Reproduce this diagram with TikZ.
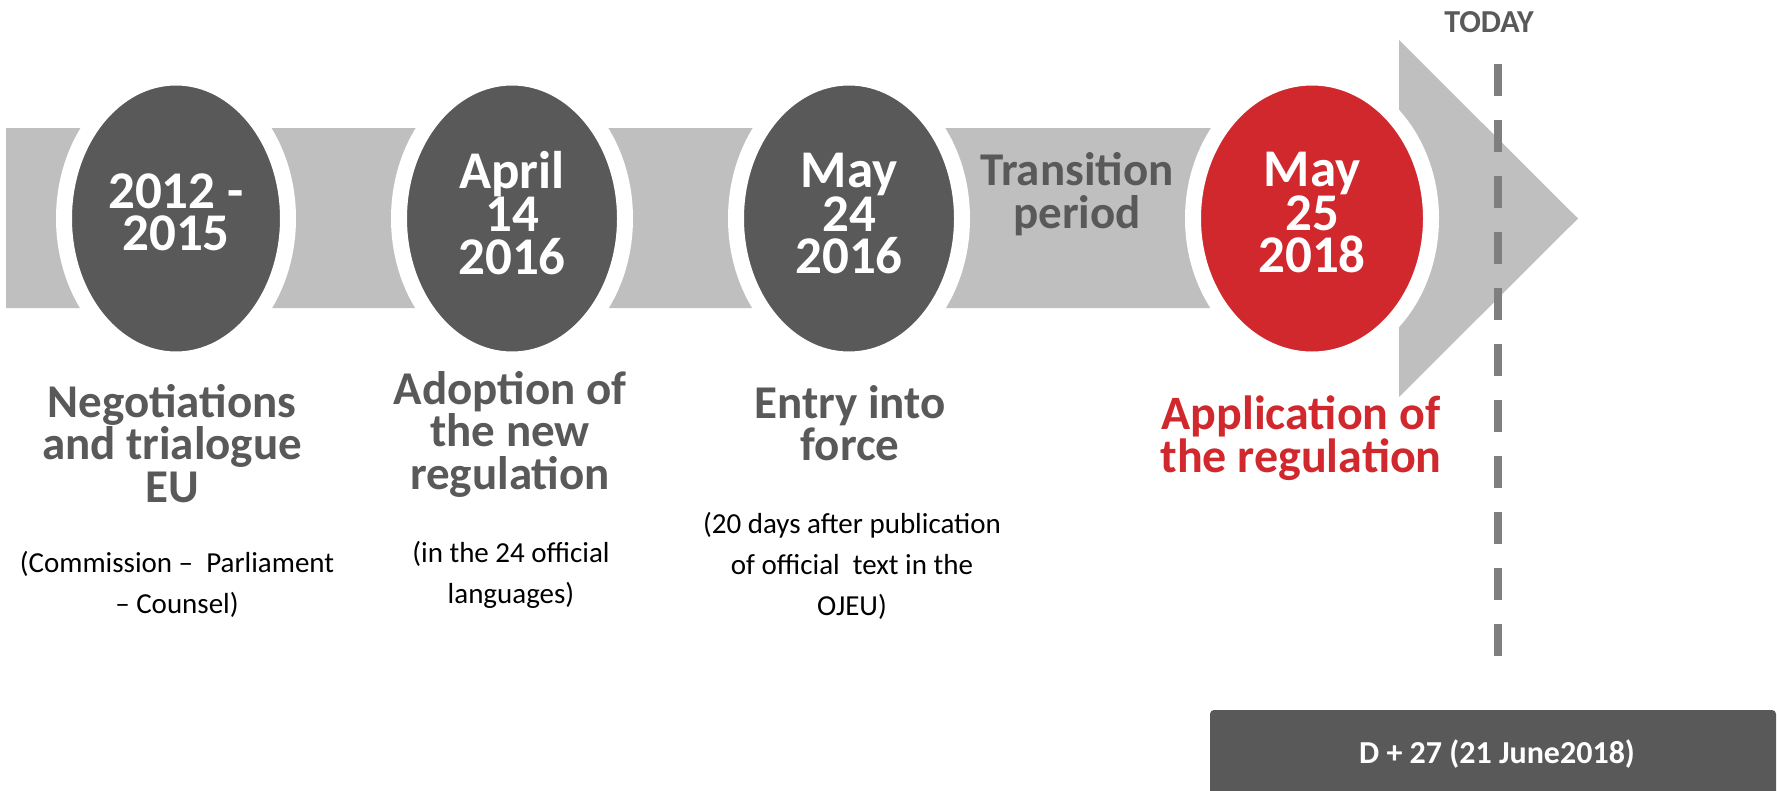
\documentclass[tikz,border=0pt]{standalone}
\usepackage{fontspec}
\setmainfont{Carlito}
\usetikzlibrary{shapes.geometric}

\definecolor{bandgray}{HTML}{BFBFBF}
\definecolor{darkgray}{HTML}{595959}
\definecolor{accentred}{HTML}{D1282E}
\definecolor{dashgray}{HTML}{7F7F7F}

% keep the given baseline distance even for lines with descenders
\setlength{\lineskiplimit}{-100pt}

\tikzset{
  milestone/.style={ellipse, fill=darkgray, draw=white, line width=16pt,
    minimum width=226pt, minimum height=282pt, inner sep=0pt},
  keymilestone/.style={milestone, fill=accentred, minimum width=238pt},
  datetext/.style={text=white, anchor=base, inner sep=0pt, align=flush center, text width=300pt,
    font=\bfseries\fontsize{53pt}{42.5pt}\selectfont},
  bigtext/.style={text=darkgray, anchor=base, inner sep=0pt, align=flush center, text width=340pt,
    font=\bfseries\fontsize{47pt}{42.5pt}\selectfont},
  smalltext/.style={text=black, anchor=base, inner sep=0pt, align=flush center, text width=360pt,
    font=\fontsize{29pt}{41pt}\selectfont},
}

\begin{document}
\begin{tikzpicture}[x=1pt, y=-1pt]
  \useasboundingbox (0,0) rectangle (1777,790);
  \fill[white] (0,0) rectangle (1777,790);

  % timeline arrow
  \fill[bandgray] (6,128) -- (1399,128) -- (1399,40) -- (1578,218.5)
    -- (1399,397) -- (1399,308) -- (6,308) -- cycle;

  % milestones
  \node[milestone, minimum width=224pt] (m1) at (176,218.5) {};
  \node[milestone] (m2) at (512,218.5) {};
  \node[milestone] (m3) at (849,218.5) {};
  \node[keymilestone] (m4) at (1312,218.5) {};

  \node[datetext] (d1) at (176,208) {2012 -\\2015};
  \node[datetext] (d2) at (512,188) {April\\14\\2016};
  \node[datetext] (d3) at (849,187) {May\\24\\2016};
  \node[datetext] (d4) at (1312,186) {May\\25\\2018};

  \node[bigtext, font=\bfseries\fontsize{47pt}{43pt}\selectfont]
    (transition) at (1077,185) {Transition\\period};

  % milestone descriptions
  \node[bigtext] (l1) at (172,417) {Negotiations\\and trialogue\\EU};
  \node[bigtext] (l2) at (510,404) {Adoption of\\the new\\regulation};
  \node[bigtext] (l3) at (850,418) {Entry into\\force};
  \node[bigtext, text=accentred, font=\bfseries\fontsize{48pt}{43pt}\selectfont]
    (l4) at (1301,429) {Application of\\the regulation};

  \node[smalltext] (s1) at (177,572) {(Commission --\ \ Parliament\\-- Counsel)};
  \node[smalltext] (s2) at (511,562) {(in the 24 official\\languages)};
  \node[smalltext] (s3) at (852,533) {(20 days after publication\\of official\ \ text in the\\OJEU)};

  % today marker
  \node[text=darkgray, anchor=base, inner sep=0pt, font=\bfseries\fontsize{32pt}{32pt}\selectfont]
    (today) at (1489,32) {TODAY};
  \coordinate (dtop) at (1498,64);
  \coordinate (dbot) at (1498,656);
  \draw[dashgray, line width=8pt, dash pattern=on 32pt off 24pt] (dtop) -- (dbot);

  % elapsed-days box
  \fill[darkgray, rounded corners=4pt] (1210,710) rectangle (1776,820);
  \node[text=white, anchor=base, inner sep=0pt, font=\bfseries\fontsize{32pt}{32pt}\selectfont]
    (elapsed) at (1497,763) {D + 27 (21 June2018)};
\end{tikzpicture}
\end{document}
